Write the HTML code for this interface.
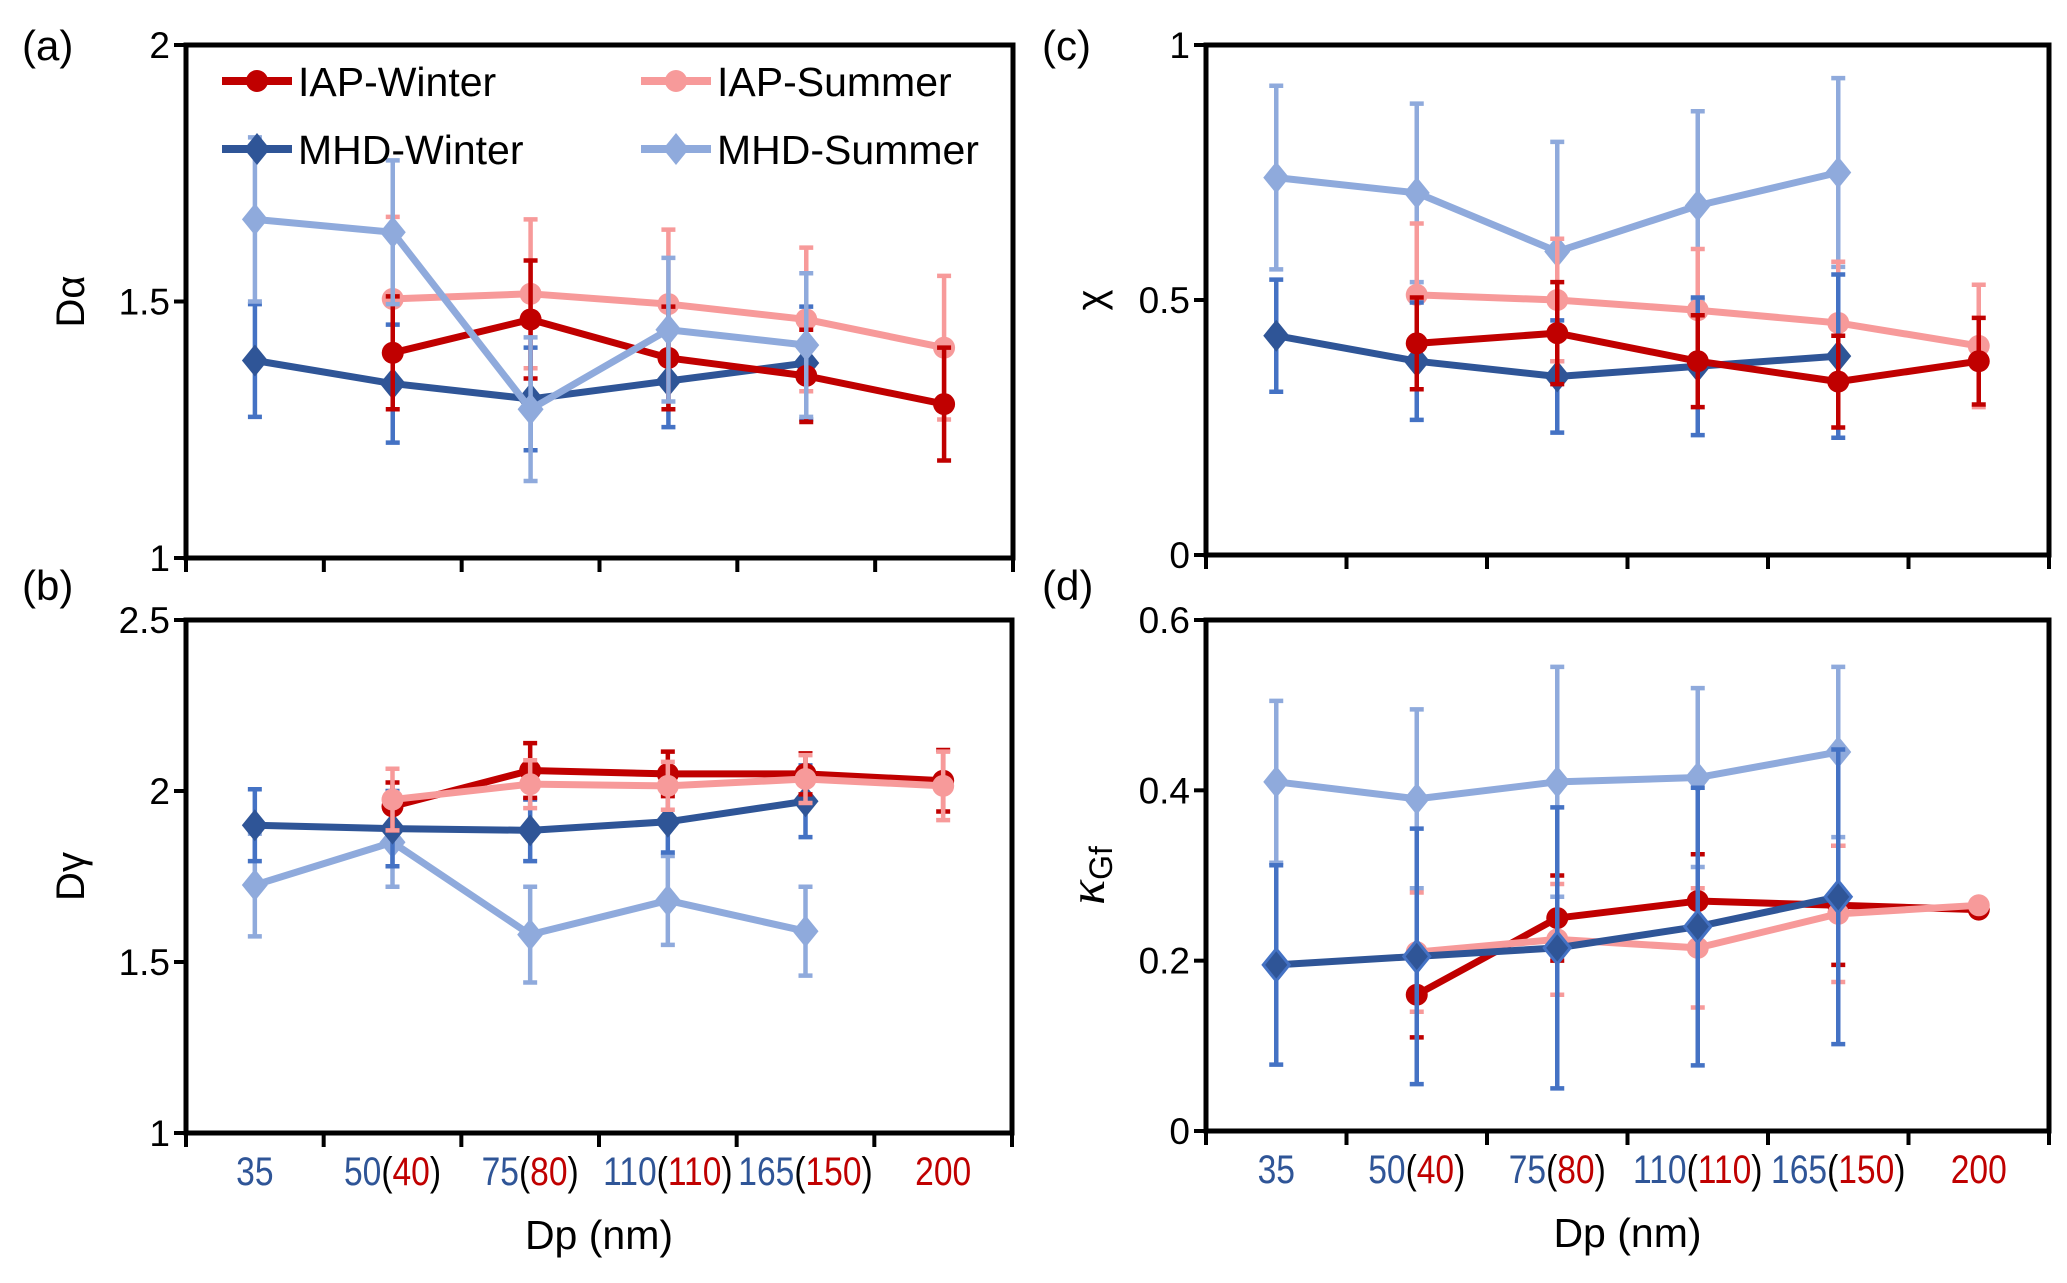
<!DOCTYPE html>
<html><head><meta charset="utf-8"><style>
html,body{margin:0;padding:0;background:#fff;}
svg{display:block;font-family:"Liberation Sans",Arial,sans-serif;}
</style></head><body>
<svg id="chart" width="2067" height="1283" viewBox="0 0 2067 1283"></svg>
<script>
const categories=["35","50(40)","75(80)","110(110)","165(150)","200"];
const mhdLabels=["35","50","75","110","165",""];
const iapLabels=["","40","80","110","150","200"];
// panel a
const aIapW=[null,1.40,1.465,1.39,1.355,1.30], aIapWErr=[0,0.11,0.115,0.10,0.09,0.11];
const aIapS=[null,1.505,1.515,1.495,1.465,1.41], aIapSErr=[0,0.16,0.145,0.145,0.14,0.14];
const aMhdW=[1.385,1.34,1.31,1.345,1.38,null], aMhdWErr=[0.11,0.115,0.10,0.09,0.11,0];
const aMhdS=[1.66,1.635,1.29,1.445,1.415,null], aMhdSErr=[0.16,0.14,0.14,0.14,0.14,0];
// panel b
const bIapW=[null,1.955,2.06,2.05,2.05,2.03], bIapWErr=[0,0.07,0.08,0.065,0.06,0.09];
const bIapS=[null,1.975,2.02,2.015,2.035,2.015], bIapSErr=[0,0.09,0.07,0.07,0.07,0.1];
const bMhdW=[1.90,1.89,1.885,1.91,1.97,null], bMhdWErr=[0.105,0.11,0.09,0.09,0.105,0];
const bMhdS=[1.725,1.85,1.58,1.68,1.59,null], bMhdSErr=[0.15,0.13,0.14,0.13,0.13,0];
// panel c
const cIapW=[null,0.415,0.435,0.38,0.34,0.38], cIapWErr=[0,0.09,0.1,0.09,0.09,0.085];
const cIapS=[null,0.51,0.50,0.48,0.455,0.41], cIapSErr=[0,0.14,0.12,0.12,0.12,0.12];
const cMhdW=[0.43,0.38,0.35,0.37,0.39,null], cMhdWErr=[0.11,0.115,0.11,0.135,0.16,0];
const cMhdS=[0.74,0.71,0.595,0.685,0.75,null], cMhdSErr=[0.18,0.175,0.215,0.185,0.185,0];
// panel d
const dIapW=[null,0.16,0.25,0.27,0.265,0.26], dIapWErr=[0,0.05,0.05,0.055,0.07,0];
const dIapS=[null,0.21,0.225,0.215,0.255,0.265], dIapSErr=[0,0.07,0.065,0.07,0.08,0];
const dMhdW=[0.195,0.205,0.215,0.24,0.275,null], dMhdWErr=[0.117,0.15,0.165,0.163,0.173,0];
const dMhdS=[0.41,0.39,0.41,0.415,0.445,null], dMhdSErr=[0.095,0.105,0.135,0.105,0.1,0];
const aTicks=["1","1.5","2"], bTicks=["1","1.5","2","2.5"], cTicks=["0","0.5","1"], dTicks=["0","0.2","0.4","0.6"];

const NS="http://www.w3.org/2000/svg";
const svg=document.getElementById('chart');
const COL={iw:"#c00000",is:"#f79a9a",mw:"#2f5597",ms:"#8faadc",mwErr:"#4472c4"};
function mk(tag,attrs,parent){const e=document.createElementNS(NS,tag);for(const k in attrs)e.setAttribute(k,attrs[k]);(parent||svg).appendChild(e);return e;}

function panel(cfg){
  const g=mk('g',{});
  
  
  const {x0,x1,y0,y1,min,max}=cfg;
  const n=categories.length, step=(x1-x0)/n;
  const X=i=>x0+step*(i+0.5);
  const Y=v=>y1-(v-min)/(max-min)*(y1-y0);
  const frame=mk('rect',{x:x0,y:y0,width:x1-x0,height:y1-y0,fill:"none",stroke:"#000","stroke-width":5},g);
  
  
  for(let i=0;i<=n;i++){const t=mk('line',{x1:x0+step*i,x2:x0+step*i,y1:y1,y2:y1+14,stroke:"#000","stroke-width":4},g);
    
    }
  cfg.ticks.forEach(tk=>{const v=parseFloat(tk);const y=Y(v);
    const t=mk('line',{x1:x0-12,x2:x0,y1:y,y2:y,stroke:"#000","stroke-width":4},g);
    
    
    const l=mk('text',{x:x0-16,y:y+13,"text-anchor":"end","font-size":37,fill:"#000"},g);l.textContent=tk;
    
    });
  const pl=mk('text',{x:cfg.lx,y:cfg.ly,"font-size":42,fill:"#000"},g);pl.textContent=cfg.label;
  
  
  const yt=mk('text',{transform:`translate(${x0-102},${(y0+y1)/2}) rotate(-90)`,"text-anchor":"middle","font-size":40,fill:"#000"},g);
  if(cfg.kappa){yt.innerHTML='<tspan font-family="Liberation Serif" font-style="italic" font-size="52">κ</tspan><tspan font-size="32" dy="8">Gf</tspan>';}
  else yt.textContent=cfg.ytitle;
  
  
  if(cfg.xlabels){
    for(let i=0;i<n;i++){const t=mk('text',{transform:`translate(${X(i)},${y1+52}) scale(0.84,1)`,x:0,y:0,"text-anchor":"middle","font-size":40},g);
      
      
      let h='';
      if(mhdLabels[i])h+=`<tspan fill="${COL.mw}">${mhdLabels[i]}</tspan>`;
      if(iapLabels[i]){ if(mhdLabels[i]) h+=`<tspan fill="#000">(</tspan><tspan fill="${COL.iw}">${iapLabels[i]}</tspan><tspan fill="#000">)</tspan>`; else h+=`<tspan fill="${COL.iw}">${iapLabels[i]}</tspan>`;}
      t.innerHTML=h;}
    const xt=mk('text',{x:(x0+x1)/2,y:y1+116,"text-anchor":"middle","font-size":41,fill:"#000"},g);xt.textContent="Dp (nm)";
    
    
  }
  const series=[
    {v:cfg.ms,e:cfg.msE,c:COL.ms,ec:COL.ms,m:'d',name:'mhd-summer'},
    {v:cfg.mw,e:cfg.mwE,c:COL.mw,ec:COL.mwErr,m:'d',name:'mhd-winter'},
    {v:cfg.is,e:cfg.isE,c:COL.is,ec:COL.is,m:'c',name:'iap-summer'},
    {v:cfg.iw,e:cfg.iwE,c:COL.iw,ec:COL.iw,m:'c',name:'iap-winter'}];
  const order=cfg.order||[0,1,2,3];
  order.forEach(si=>{const s=series[si];
    const sg=mk('g',{},g);
    
    
    s.v.forEach((v,i)=>{if(v==null||!s.e[i])return;const x=X(i);
      const eb=mk('path',{d:`M${x},${Y(v-s.e[i])}V${Y(v+s.e[i])}M${x-7},${Y(v-s.e[i])}H${x+7}M${x-7},${Y(v+s.e[i])}H${x+7}`,stroke:s.ec,"stroke-width":4.5,fill:"none"},sg);
      
      });
    let d='';s.v.forEach((v,i)=>{if(v==null)return;d+=(d?'L':'M')+X(i)+','+Y(v);});
    const ln=mk('path',{d,stroke:s.c,"stroke-width":7,fill:"none","stroke-linejoin":"round"},sg);
    
    
    s.v.forEach((v,i)=>{if(v==null)return;const x=X(i),y=Y(v);let mEl;
      if(s.m==='c')mEl=mk('circle',{cx:x,cy:y,r:11,fill:s.c},sg);
      else mEl=mk('path',{d:`M${x},${y-16}L${x+13},${y}L${x},${y+16}L${x-13},${y}Z`,fill:s.c,stroke:s.name==='mhd-winter'&&cfg.kappa?COL.mwErr:'none',"stroke-width":3},sg);
      
      });
  });
}
panel({name:'panel-a',label:'(a)',lx:22,ly:60,x0:186,x1:1013,y0:45,y1:558,min:1,max:2,ticks:aTicks,ytitle:'Dα',
  iw:aIapW,iwE:aIapWErr,is:aIapS,isE:aIapSErr,mw:aMhdW,mwE:aMhdWErr,ms:aMhdS,msE:aMhdSErr,order:[2,1,3,0]});
panel({name:'panel-b',label:'(b)',lx:22,ly:600,x0:186,x1:1012,y0:620,y1:1133,min:1,max:2.5,ticks:bTicks,ytitle:'Dγ',xlabels:true,
  iw:bIapW,iwE:bIapWErr,is:bIapS,isE:bIapSErr,mw:bMhdW,mwE:bMhdWErr,ms:bMhdS,msE:bMhdSErr,order:[0,1,3,2]});
panel({name:'panel-c',label:'(c)',lx:1042,ly:60,x0:1206,x1:2049,y0:45,y1:555,min:0,max:1,ticks:cTicks,ytitle:'χ',
  iw:cIapW,iwE:cIapWErr,is:cIapS,isE:cIapSErr,mw:cMhdW,mwE:cMhdWErr,ms:cMhdS,msE:cMhdSErr,order:[0,2,1,3]});
panel({name:'panel-d',label:'(d)',lx:1042,ly:600,x0:1206,x1:2049,y0:620,y1:1131,min:0,max:0.6,ticks:dTicks,kappa:true,xlabels:true,
  iw:dIapW,iwE:dIapWErr,is:dIapS,isE:dIapSErr,mw:dMhdW,mwE:dMhdWErr,ms:dMhdS,msE:dMhdSErr,order:[0,3,2,1]});

// legend
const leg=[{t:'IAP-Winter',c:COL.iw,m:'c',x:222,y:81},{t:'IAP-Summer',c:COL.is,m:'c',x:641,y:81},
  {t:'MHD-Winter',c:COL.mw,m:'d',x:222,y:149},{t:'MHD-Summer',c:COL.ms,m:'d',x:641,y:149}];
leg.forEach(l=>{const g=mk('g',{});
  
  
  mk('line',{x1:l.x,x2:l.x+70,y1:l.y,y2:l.y,stroke:l.c,"stroke-width":8},g);
  const cx=l.x+35;
  if(l.m==='c')mk('circle',{cx,cy:l.y,r:11,fill:l.c},g);
  else mk('path',{d:`M${cx},${l.y-16}L${cx+13},${l.y}L${cx},${l.y+16}L${cx-13},${l.y}Z`,fill:l.c},g);
  const t=mk('text',{x:l.x+76,y:l.y+15,"font-size":41,fill:"#000"},g);t.textContent=l.t;});
</script>
</body></html>
